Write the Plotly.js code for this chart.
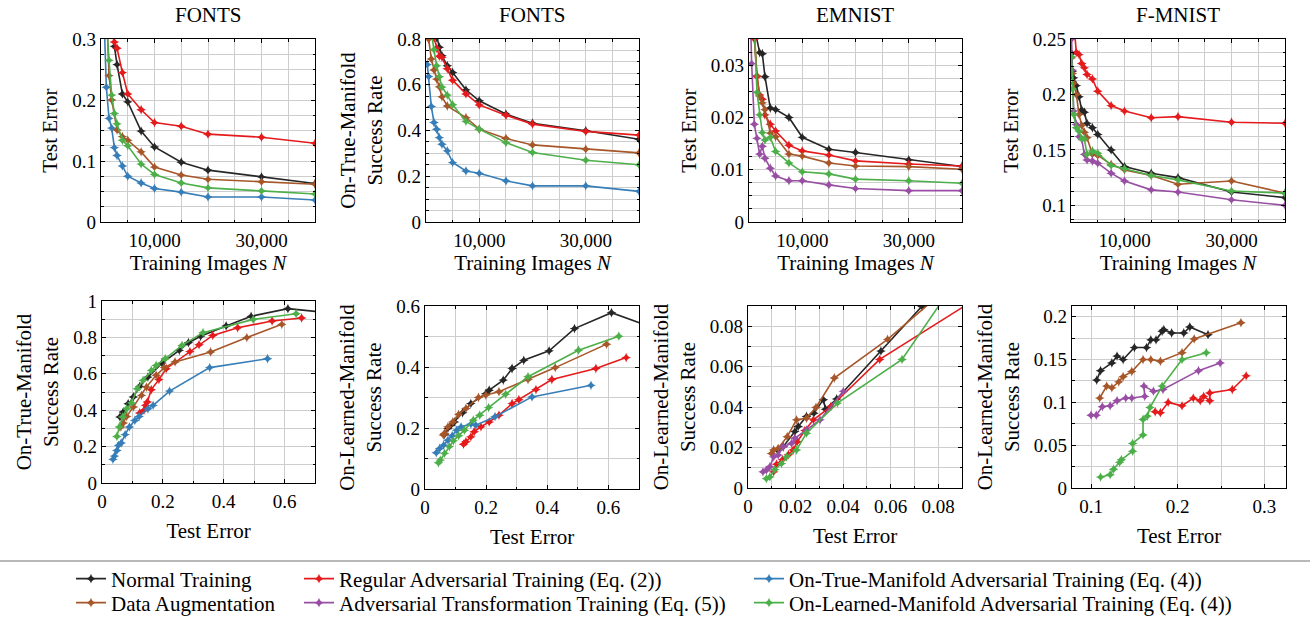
<!DOCTYPE html>
<html>
<head>
<meta charset="utf-8">
<script src="https://cdn.plot.ly/plotly-3.0.1.min.js"></script>
<style>html,body{margin:0;padding:0;background:#fff;}#chart{width:1310px;height:620px;}</style>
</head>
<body>
<div id="chart"></div>
<script>
// ---------------- DATA ----------------
// Top row: training-set size N
const fontsN = [250, 500, 1000, 1500, 2000, 2500, 3000, 4000, 5000, 7500, 10000, 15000, 20000, 30000, 40000];
// FONTS: test error vs N
const fontsErrNormal  = [0.75, 0.61, 0.49, 0.41, 0.33, 0.288, 0.258, 0.21, 0.197, 0.149, 0.123, 0.098, 0.085, 0.074, 0.063];
const fontsErrRegular = [0.66, 0.56, 0.45, 0.36, 0.32, 0.295, 0.285, 0.245, 0.21, 0.184, 0.163, 0.157, 0.144, 0.139, 0.129];
const fontsErrTrue    = [0.544, 0.354, 0.221, 0.17, 0.154, 0.122, 0.109, 0.092, 0.075, 0.064, 0.055, 0.049, 0.041, 0.041, 0.036];
const fontsErrAug     = [0.59, 0.48, 0.36, 0.24, 0.2, null, 0.151, 0.14, 0.134, 0.115, 0.09, 0.077, 0.07, 0.066, 0.062];
const fontsErrLearned = [0.64, 0.5, 0.33, 0.265, 0.208, 0.178, 0.161, 0.134, 0.125, 0.095, 0.078, 0.064, 0.056, 0.051, 0.046];
// FONTS: on-true-manifold success rate vs N
const fontsSuccNormal  = [0.93, 0.958, 0.916, 0.863, 0.806, 0.764, 0.727, 0.683, 0.654, 0.578, 0.53, 0.472, 0.432, 0.399, 0.362];
const fontsSuccRegular = [0.907, 0.89, 0.853, 0.805, 0.76, 0.725, 0.72, 0.67, 0.62, 0.56, 0.512, 0.467, 0.428, 0.396, 0.38];
const fontsSuccTrue    = [0.688, 0.636, 0.505, 0.435, 0.406, 0.369, 0.34, 0.311, 0.26, 0.223, 0.213, 0.18, 0.158, 0.158, 0.134];
const fontsSuccAug     = [0.872, 0.8, 0.713, 0.665, 0.625, 0.591, 0.547, 0.507, null, 0.456, 0.406, 0.365, 0.337, 0.318, 0.302];
const fontsSuccLearned = [0.93, 0.899, 0.826, 0.753, 0.683, 0.635, 0.59, 0.555, 0.513, 0.44, 0.406, 0.347, 0.304, 0.27, 0.25];
// EMNIST: test error vs N
const emnistN = [250, 500, 1000, 1500, 2000, 2500, 3000, 4000, 5000, 7500, 10000, 15000, 20000, 30000, 40000];
const emnistErrNormal  = [0.0732, 0.0559, 0.0373, null, 0.0324, 0.0322, 0.0278, 0.0218, 0.0215, 0.02, 0.0162, 0.0139, 0.0133, 0.0119, 0.0106];
const emnistErrRegular = [0.1, 0.0554, 0.035, 0.0278, 0.0243, 0.0235, 0.0205, 0.0187, 0.0174, 0.0147, 0.0136, 0.0128, 0.0117, 0.0111, 0.0107];
const emnistErrAug     = [0.085, 0.0587, 0.0363, 0.028, 0.0241, 0.0228, 0.0215, 0.017, 0.0163, 0.013, 0.0126, 0.0113, 0.0107, 0.0106, 0.0101];
const emnistErrTransf  = [0.0401, 0.0303, 0.0187, 0.016, 0.013, 0.0145, 0.0122, 0.0103, 0.0088, 0.0079, 0.0079, 0.0071, 0.0064, 0.006, 0.006];
const emnistErrLearned = [0.086, 0.0648, 0.0376, 0.0248, 0.0205, 0.0171, 0.0157, 0.0162, 0.0135, 0.0113, 0.0096, 0.0092, 0.0082, 0.0079, 0.0074];
// F-MNIST: test error vs N
const fmnistN = [100, 250, 500, 1000, 1500, 2000, 2500, 3000, 4000, 5000, 7500, 10000, 15000, 20000, 30000, 40000];
const fmnistErrNormal  = [0.237, 0.221, 0.215, 0.208, 0.198, 0.186, 0.184, 0.174, 0.17, 0.164, 0.15, 0.135, 0.129, 0.125, 0.112, 0.107];
const fmnistErrRegular = [null, 0.279, 0.263, 0.238, 0.236, 0.228, 0.224, 0.218, 0.214, 0.203, 0.19, 0.185, 0.179, 0.18, 0.175, 0.174];
const fmnistErrAug     = [0.233, 0.219, 0.21, 0.2, 0.182, 0.172, 0.166, 0.161, 0.146, 0.145, 0.137, 0.132, 0.127, 0.119, 0.122, 0.111];
const fmnistErrTransf  = [0.25, 0.222, 0.185, 0.173, 0.162, 0.16, 0.146, 0.141, 0.14, 0.138, 0.129, 0.122, 0.114, 0.112, 0.105, 0.1];
const fmnistErrLearned = [0.234, 0.205, 0.182, 0.17, 0.167, 0.16, 0.16, 0.146, 0.149, 0.147, 0.136, 0.133, 0.127, 0.123, 0.113, 0.111];

// Bottom row, FONTS: on-true-manifold success vs test error
const p5NormalErr   = [0.059, 0.07, 0.086, 0.103, 0.124, 0.151, 0.197, 0.254, 0.284, 0.324, 0.408, 0.49, 0.611, 0.75];
const p5NormalSucc  = [0.363, 0.39, 0.436, 0.473, 0.531, 0.582, 0.659, 0.729, 0.771, 0.806, 0.863, 0.916, 0.958, 0.935];
const p5RegularErr  = [0.124, 0.138, 0.143, 0.149, 0.162, 0.187, 0.211, 0.289, 0.319, 0.364, 0.446, 0.559, 0.656];
const p5RegularSucc = [0.385, 0.4, 0.427, 0.445, 0.513, 0.568, 0.628, 0.722, 0.76, 0.811, 0.853, 0.89, 0.907];
const p5TrueErr     = [0.036, 0.041, 0.049, 0.054, 0.063, 0.076, 0.09, 0.108, 0.122, 0.151, 0.168, 0.222, 0.354, 0.544];
const p5TrueSucc    = [0.13, 0.148, 0.179, 0.207, 0.22, 0.266, 0.308, 0.344, 0.366, 0.408, 0.427, 0.505, 0.634, 0.683];
const p5AugErr      = [0.062, 0.07, 0.081, 0.103, 0.13, 0.146, 0.178, 0.205, 0.24, 0.357, 0.476, 0.591];
const p5AugSucc     = [0.308, 0.33, 0.366, 0.418, 0.482, 0.527, 0.592, 0.634, 0.665, 0.72, 0.799, 0.872];
const p5LearnedErr  = [0.049, 0.057, 0.068, 0.081, 0.097, 0.116, 0.135, 0.162, 0.178, 0.208, 0.263, 0.332, 0.497, 0.638];
const p5LearnedSucc = [0.256, 0.308, 0.363, 0.408, 0.44, 0.518, 0.564, 0.619, 0.646, 0.683, 0.756, 0.826, 0.899, 0.93];
// Bottom row, FONTS: on-learned-manifold success vs test error
const p6NormalErr   = [0.064, 0.075, 0.085, 0.096, 0.123, 0.15, 0.199, 0.21, 0.256, 0.285, 0.323, 0.406, 0.489, 0.61, 0.76];
const p6NormalSucc  = [0.179, 0.199, 0.209, 0.22, 0.25, 0.28, 0.313, 0.324, 0.357, 0.395, 0.422, 0.453, 0.526, 0.578, 0.524];
const p6RegularErr  = [0.126, 0.134, 0.15, 0.161, 0.183, 0.21, 0.242, 0.285, 0.307, 0.363, 0.415, 0.559, 0.658];
const p6RegularSucc = [0.147, 0.155, 0.171, 0.188, 0.204, 0.22, 0.242, 0.28, 0.293, 0.326, 0.359, 0.395, 0.431];
const p6TrueErr     = [0.037, 0.048, 0.061, 0.075, 0.089, 0.104, 0.118, 0.15, 0.166, 0.229, 0.35, 0.543];
const p6TrueSucc    = [0.119, 0.133, 0.144, 0.16, 0.175, 0.193, 0.204, 0.213, 0.209, 0.237, 0.302, 0.34];
const p6AugErr      = [0.06, 0.064, 0.075, 0.091, 0.11, 0.134, 0.175, 0.199, 0.242, 0.337, 0.426, 0.594];
const p6AugSucc     = [0.177, 0.182, 0.204, 0.22, 0.245, 0.264, 0.3, 0.308, 0.319, 0.359, 0.398, 0.475];
const p6LearnedErr  = [0.044, 0.05, 0.064, 0.08, 0.093, 0.11, 0.129, 0.158, 0.179, 0.208, 0.264, 0.337, 0.502, 0.634];
const p6LearnedSucc = [0.086, 0.095, 0.117, 0.139, 0.158, 0.175, 0.193, 0.226, 0.242, 0.267, 0.311, 0.368, 0.455, 0.501];
// Bottom row, EMNIST: on-learned-manifold success vs test error
const p7NormalErr   = [0.0124, 0.0148, 0.0197, 0.0211, 0.0246, 0.0277, 0.0317, 0.0326, 0.0373, 0.0559, 0.0732, 0.085];
const p7NormalSucc  = [0.0188, 0.0204, 0.0279, 0.0304, 0.0354, 0.037, 0.0437, 0.039, 0.044, 0.0677, 0.0898, 0.105];
const p7RegularErr  = [0.0108, 0.012, 0.0145, 0.017, 0.019, 0.0207, 0.0239, 0.0275, 0.0349, 0.0554, 0.1];
const p7RegularSucc = [0.008, 0.0118, 0.014, 0.0165, 0.0188, 0.0229, 0.0284, 0.0337, 0.0403, 0.0636, 0.0966];
const p7AugErr      = [0.0099, 0.0108, 0.0127, 0.0165, 0.0204, 0.0246, 0.0286, 0.0363, 0.0587, 0.085];
const p7AugSucc     = [0.0171, 0.0188, 0.0196, 0.0254, 0.0337, 0.0345, 0.0398, 0.0544, 0.0735, 0.1];
const p7TransfErr   = [0.0063, 0.0077, 0.0092, 0.0108, 0.0127, 0.0148, 0.0183, 0.0197, 0.0246, 0.0303, 0.0401];
const p7TransfSucc  = [0.008, 0.0088, 0.0105, 0.0154, 0.0163, 0.0204, 0.0221, 0.0246, 0.0287, 0.0337, 0.0478];
const p7LearnedErr  = [0.0077, 0.0092, 0.0113, 0.0141, 0.0162, 0.0204, 0.0246, 0.0376, 0.0648, 0.086];
const p7LearnedSucc = [0.0046, 0.0055, 0.0091, 0.0121, 0.0154, 0.0188, 0.0271, 0.042, 0.0636, 0.1];
// Bottom row, F-MNIST: on-learned-manifold success vs test error
const p8NormalErr   = [0.1065, 0.111, 0.124, 0.13, 0.137, 0.15, 0.164, 0.169, 0.175, 0.182, 0.184, 0.193, 0.207, 0.214, 0.235];
const p8NormalSucc  = [0.126, 0.137, 0.146, 0.154, 0.15, 0.164, 0.164, 0.173, 0.173, 0.183, 0.185, 0.181, 0.181, 0.188, 0.179];
const p8RegularErr  = [0.174, 0.18, 0.189, 0.205, 0.218, 0.226, 0.23, 0.237, 0.237, 0.263, 0.279];
const p8RegularSucc = [0.089, 0.088, 0.1, 0.096, 0.105, 0.102, 0.107, 0.102, 0.111, 0.115, 0.131];
const p8AugErr      = [0.11, 0.118, 0.124, 0.132, 0.137, 0.147, 0.16, 0.169, 0.18, 0.205, 0.219, 0.273];
const p8AugSucc     = [0.105, 0.119, 0.117, 0.124, 0.13, 0.136, 0.15, 0.15, 0.148, 0.158, 0.174, 0.193];
const p8TransfErr   = [0.1, 0.106, 0.113, 0.122, 0.13, 0.14, 0.147, 0.162, 0.161, 0.172, 0.183, 0.224, 0.249];
const p8TransfSucc  = [0.085, 0.085, 0.095, 0.096, 0.102, 0.105, 0.105, 0.107, 0.119, 0.113, 0.115, 0.137, 0.146];
const p8LearnedErr  = [0.111, 0.122, 0.126, 0.133, 0.135, 0.148, 0.148, 0.16, 0.16, 0.165, 0.168, 0.182, 0.205, 0.233];
const p8LearnedSucc = [0.0128, 0.0155, 0.022, 0.03, 0.033, 0.043, 0.052, 0.062, 0.08, 0.084, 0.094, 0.119, 0.15, 0.158];

const columnTitles = ['FONTS', 'FONTS', 'EMNIST', 'F-MNIST'];

// ---------------- STYLE ----------------
const FAM = "'Liberation Serif', 'DejaVu Serif', serif";
const SERIES = {
  normal:  {name: 'Normal Training', color: '#262626', legend: 'legend'},
  regular: {name: 'Regular Adversarial Training (Eq. (2))', color: '#e41a1c', legend: 'legend3'},
  onTrue:  {name: 'On-True-Manifold Adversarial Training (Eq. (4))', color: '#377eb8', legend: 'legend5'},
  aug:     {name: 'Data Augmentation', color: '#a65628', legend: 'legend2'},
  transf:  {name: 'Adversarial Transformation Training (Eq. (5))', color: '#984ea3', legend: 'legend4'},
  learned: {name: 'On-Learned-Manifold Adversarial Training (Eq. (4))', color: '#4daf4a', legend: 'legend6'}
};
const shown = {};
const traces = [];
function add(key, x, y, n) {
  const s = SERIES[key];
  const first = !shown[key];
  shown[key] = true;
  traces.push({
    type: 'scatter', mode: 'lines+markers', x: x, y: y,
    xaxis: 'x' + (n === 1 ? '' : n), yaxis: 'y' + (n === 1 ? '' : n),
    name: s.name, legend: s.legend, showlegend: first, connectgaps: true,
    line: {color: s.color, width: 1.6},
    marker: {symbol: 'star-diamond', size: 7, color: s.color},
    hoverinfo: 'skip'
  });
}
add('normal', fontsN, fontsErrNormal, 1); add('regular', fontsN, fontsErrRegular, 1);
add('onTrue', fontsN, fontsErrTrue, 1); add('aug', fontsN, fontsErrAug, 1); add('learned', fontsN, fontsErrLearned, 1);
add('normal', fontsN, fontsSuccNormal, 2); add('regular', fontsN, fontsSuccRegular, 2);
add('onTrue', fontsN, fontsSuccTrue, 2); add('aug', fontsN, fontsSuccAug, 2); add('learned', fontsN, fontsSuccLearned, 2);
add('normal', emnistN, emnistErrNormal, 3); add('regular', emnistN, emnistErrRegular, 3);
add('aug', emnistN, emnistErrAug, 3); add('transf', emnistN, emnistErrTransf, 3); add('learned', emnistN, emnistErrLearned, 3);
add('normal', fmnistN, fmnistErrNormal, 4); add('regular', fmnistN, fmnistErrRegular, 4);
add('aug', fmnistN, fmnistErrAug, 4); add('transf', fmnistN, fmnistErrTransf, 4); add('learned', fmnistN, fmnistErrLearned, 4);
add('normal', p5NormalErr, p5NormalSucc, 5); add('regular', p5RegularErr, p5RegularSucc, 5);
add('onTrue', p5TrueErr, p5TrueSucc, 5); add('aug', p5AugErr, p5AugSucc, 5); add('learned', p5LearnedErr, p5LearnedSucc, 5);
add('normal', p6NormalErr, p6NormalSucc, 6); add('regular', p6RegularErr, p6RegularSucc, 6);
add('onTrue', p6TrueErr, p6TrueSucc, 6); add('aug', p6AugErr, p6AugSucc, 6); add('learned', p6LearnedErr, p6LearnedSucc, 6);
add('normal', p7NormalErr, p7NormalSucc, 7); add('regular', p7RegularErr, p7RegularSucc, 7);
add('aug', p7AugErr, p7AugSucc, 7); add('transf', p7TransfErr, p7TransfSucc, 7); add('learned', p7LearnedErr, p7LearnedSucc, 7);
add('normal', p8NormalErr, p8NormalSucc, 8); add('regular', p8RegularErr, p8RegularSucc, 8);
add('aug', p8AugErr, p8AugSucc, 8); add('transf', p8TransfErr, p8TransfSucc, 8); add('learned', p8LearnedErr, p8LearnedSucc, 8);

// ---------------- LAYOUT ----------------
const W = 1310, H = 620;
const px = v => v / W, py = v => 1 - v / H;
const GRID = '#cdcdcd';
function axis(dom, range, tick0, dtick, minor, title, standoff, extra) {
  return Object.assign({
    domain: dom, range: range, tickmode: 'linear', tick0: tick0, dtick: dtick,
    showline: true, linecolor: '#000', linewidth: 1.3, mirror: 'ticks',
    ticks: 'inside', ticklen: 4, tickcolor: '#000', tickwidth: 1,
    showgrid: true, gridcolor: GRID, gridwidth: 1, zeroline: false,
    minor: {tick0: 0, dtick: minor, ticks: 'inside', ticklen: 2.5, tickcolor: '#000', showgrid: true, gridcolor: GRID, gridwidth: 1},
    tickfont: {family: FAM, size: 19}, fixedrange: true, automargin: false,
    title: {text: title, font: {family: FAM, size: 21}, standoff: standoff}
  }, extra || {});
}
const topY = [py(222), py(39)];
const xTitleN = 'Training Images <i>N</i>';
const layout = {
  width: W, height: H, margin: {l: 0, r: 0, t: 0, b: 0, autoexpand: false},
  paper_bgcolor: '#fff', plot_bgcolor: '#fff',
  font: {family: FAM, color: '#000', size: 19},
  xaxis:  axis([px(101), px(315)], [0, 40000], 10000, 20000, 5000, xTitleN, 5, {anchor: 'y', tickformat: ',d', ticklabelstandoff: 1}),
  yaxis:  axis(topY, [0, 0.3], 0, 0.1, 0.025, 'Test Error', 8, {anchor: 'x'}),
  xaxis2: axis([px(426), px(639)], [0, 40000], 10000, 20000, 5000, xTitleN, 5, {anchor: 'y2', tickformat: ',d', ticklabelstandoff: 1}),
  yaxis2: axis(topY, [0, 0.8], 0, 0.2, 0.05, 'On-True-Manifold<br>Success Rate', 8, {anchor: 'x2'}),
  xaxis3: axis([px(749), px(962)], [0, 40000], 10000, 20000, 5000, xTitleN, 5, {anchor: 'y3', tickformat: ',d', ticklabelstandoff: 1}),
  yaxis3: axis(topY, [0, 0.035], 0, 0.01, 0.0025, 'Test Error', 8, {anchor: 'x3'}),
  xaxis4: axis([px(1071), px(1285)], [0, 40000], 10000, 20000, 5000, xTitleN, 5, {anchor: 'y4', tickformat: ',d', ticklabelstandoff: 1}),
  yaxis4: axis(topY, [0.085, 0.25], 0, 0.05, 0.0125, 'Test Error', 8, {anchor: 'x4'}),
  xaxis5: axis([px(102), px(315)], [0, 0.7], 0, 0.2, 0.1, 'Test Error', 12, {anchor: 'y5', ticklabelstandoff: 1}),
  yaxis5: axis([py(483), py(301)], [0, 1], 0, 0.2, 0.1, 'On-True-Manifold<br>Success Rate', 8, {anchor: 'x5'}),
  xaxis6: axis([px(425), px(639)], [0, 0.7], 0, 0.2, 0.1, 'Test Error', 12, {anchor: 'y6', ticklabelstandoff: 1}),
  yaxis6: axis([py(489), py(306)], [0, 0.6], 0, 0.2, 0.1, 'On-Learned-Manifold<br>Success Rate', 8, {anchor: 'x6'}),
  xaxis7: axis([px(748), px(962)], [0, 0.09], 0, 0.02, 0.01, 'Test Error', 12, {anchor: 'y7', ticklabelstandoff: 1}),
  yaxis7: axis([py(488), py(306)], [0, 0.09], 0, 0.02, 0.01, 'On-Learned-Manifold<br>Success Rate', 8, {anchor: 'x7'}),
  xaxis8: axis([px(1072), px(1286)], [0.078, 0.325], 0, 0.1, 0.05, 'Test Error', 12, {anchor: 'y8', ticklabelstandoff: 1}),
  yaxis8: axis([py(488), py(306)], [0, 0.2125], 0, 0.05, 0.025, 'On-Learned-Manifold<br>Success Rate', 8, {anchor: 'x8'}),
  annotations: columnTitles.map((t, i) => ({
    text: t, xref: 'paper', yref: 'paper', showarrow: false,
    x: px([208, 532, 855, 1178][i]), y: py(15), xanchor: 'center', yanchor: 'middle',
    font: {family: FAM, size: 21}
  })),
  shapes: [{type: 'line', xref: 'paper', yref: 'paper', x0: 0, x1: 1, y0: py(561), y1: py(561),
            line: {color: '#a0a0a0', width: 1.5}}],
  showlegend: true
};
// one single-entry legend per slot: 3 columns x 2 rows
const legendSlots = [[71, 579], [71, 603], [299, 579], [299, 603], [749, 579], [749, 603]];
legendSlots.forEach((s, i) => {
  layout['legend' + (i === 0 ? '' : i + 1)] = {
    x: px(s[0]), y: py(s[1]), xanchor: 'left', yanchor: 'middle', orientation: 'v',
    font: {family: FAM, size: 21}, bgcolor: 'rgba(0,0,0,0)', borderwidth: 0, itemwidth: 30
  };
});

Plotly.newPlot('chart', traces, layout, {displayModeBar: false, staticPlot: true});
</script>
</body>
</html>
